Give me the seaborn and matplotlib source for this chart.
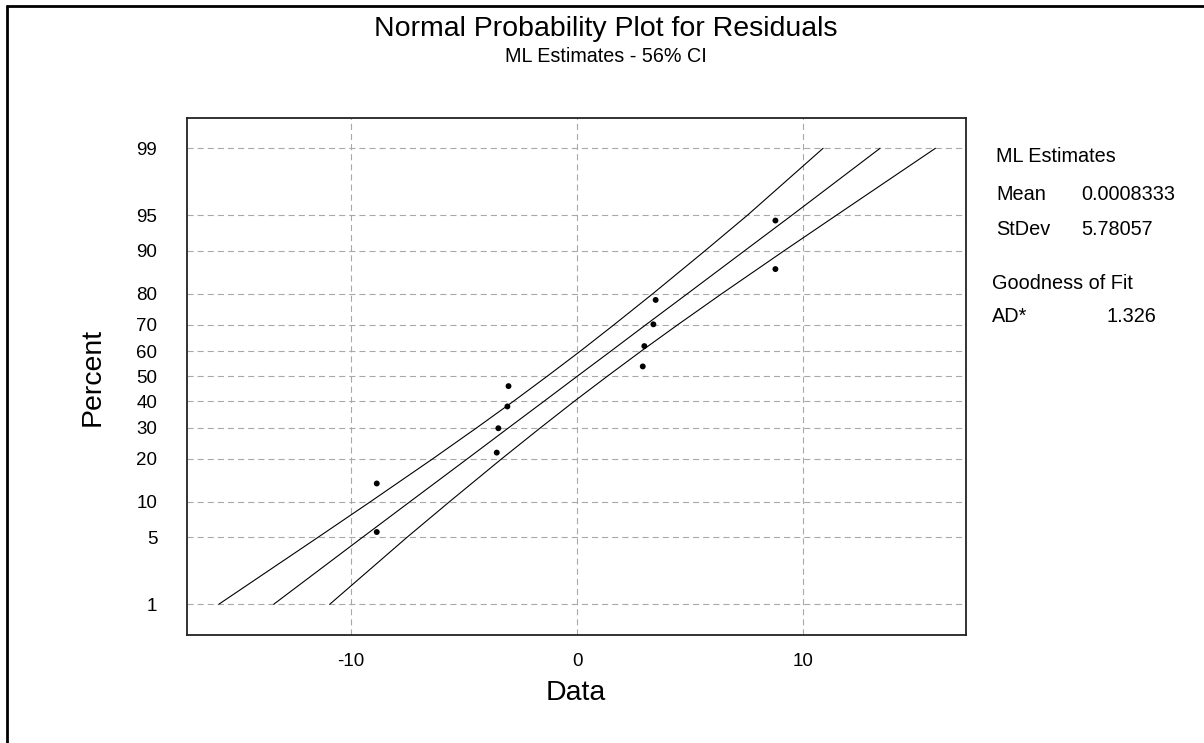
import numpy as np
import pandas as pd
import matplotlib
matplotlib.use("Agg")
import matplotlib.pyplot as plt
import matplotlib.ticker as ticker
from matplotlib.lines import Line2D
import seaborn as sns
from statistics import NormalDist

# residuals and their plotting positions (percent)
resid = [-8.87, -8.87, -3.56, -3.49, -3.09, -3.04, 2.90, 2.97, 3.37, 3.47, 8.77, 8.77]
resid_pct = [5.6, 13.7, 21.8, 29.8, 37.9, 46.0, 54.0, 62.1, 70.2, 78.2, 86.3, 94.4]

# fitted line and 56% CI bands, read at these percent levels
band_pct = [1, 5, 10, 20, 30, 40, 50, 60, 70, 80, 90, 95, 99]
fit_x = [-13.43, -9.51, -7.41, -4.86, -3.03, -1.46, 0.00, 1.47, 3.03, 4.87, 7.41, 9.51, 13.40]
upper_x = [-15.86, -11.48, -9.16, -6.39, -4.44, -2.81, -1.33, 0.12, 1.62, 3.34, 5.66, 7.54, 10.88]
lower_x = [-10.95, -7.54, -5.66, -3.34, -1.62, -0.12, 1.33, 2.81, 4.44, 6.39, 9.16, 11.48, 15.85]

y_ticks = [1, 5, 10, 20, 30, 40, 50, 60, 70, 80, 90, 95, 99]
x_ticks = [-10, 0, 10]

stats_rows = [("Mean", "0.0008333"), ("StDev", "5.78057")]
gof_rows = [("AD*", "1.326")]

pts = pd.DataFrame({"Data": resid, "Percent": resid_pct})
bands = pd.DataFrame({"Percent": band_pct, "fit": fit_x, "upper": upper_x, "lower": lower_x})

sns.set_style("white")
plt.rcParams['font.family'] = ['Liberation Sans', 'DejaVu Sans']
plt.rcParams['text.color'] = 'black'
plt.rcParams['axes.labelcolor'] = 'black'

nd = NormalDist()
_ppf = np.vectorize(nd.inv_cdf, otypes=[float])
_cdf = np.vectorize(nd.cdf, otypes=[float])

def fwd(p):
    p = np.clip(np.asarray(p, dtype=float) / 100.0, 1e-9, 1 - 1e-9)
    return _ppf(p)

def inv(z):
    return _cdf(np.asarray(z, dtype=float)) * 100.0

W, H = 1204, 743
fig = plt.figure(figsize=(W / 100, H / 100), dpi=100)
ax = fig.add_axes([186.7 / W, 1 - 635 / H, (965.7 - 186.7) / W, (635 - 118.3) / H])
ax.set_yscale('function', functions=(fwd, inv))

for col in ["upper", "fit", "lower"]:
    sns.lineplot(data=bands, x=col, y="Percent", ax=ax, color="black", lw=0.8,
                 sort=False, estimator=None)
sns.scatterplot(data=pts, x="Data", y="Percent", ax=ax, color="black", s=18,
                marker="o", edgecolor="none", zorder=5)

ax.set_xlim(-17.28, 17.19)
ax.set_ylim(0.4145, 99.576)
ax.yaxis.set_major_locator(ticker.FixedLocator(y_ticks))
ax.yaxis.set_major_formatter(ticker.FixedFormatter([str(t) for t in y_ticks]))
ax.yaxis.set_minor_locator(ticker.NullLocator())
ax.set_xticks(x_ticks)
ax.set_xticklabels([str(t) for t in x_ticks])

ax.grid(True, color="#a8a8a8", lw=0.8, linestyle=(0, (5.5, 3.6)))
for s in ax.spines.values():
    s.set_color("#222222")
    s.set_linewidth(1.3)
ax.tick_params(axis="y", direction="out", length=7.2, width=1.0, pad=14, labelsize=13.5, colors="black")
ax.tick_params(axis="x", direction="out", length=5, width=1.0, pad=8, labelsize=13.5, colors="black")

ax.set_xlabel("Data", fontsize=20.5)
ax.set_ylabel("Percent", fontsize=20.5)
ax.xaxis.set_label_coords(0.5, -0.087)
ax.yaxis.set_label_coords(-0.104, 0.5)

# titles
fig.text(605.8 / W, 1 - 36 / H, "Normal Probability Plot for Residuals", fontsize=20.5,
         ha="center", va="baseline")
fig.text(605.8 / W, 1 - 62.3 / H, "ML Estimates - 56% CI", fontsize=14.2,
         ha="center", va="baseline")

# side panel
fs = 14.3
fig.text(996 / W, 1 - 161.7 / H, "ML Estimates", fontsize=fs, va="baseline")
for (name, val), yb in zip(stats_rows, [200, 235]):
    fig.text(996 / W, 1 - yb / H, name, fontsize=fs, va="baseline")
    fig.text(1081.7 / W, 1 - yb / H, val, fontsize=fs, va="baseline")
fig.text(992 / W, 1 - 289 / H, "Goodness of Fit", fontsize=fs, va="baseline")
for (name, val), yb in zip(gof_rows, [321.7]):
    fig.text(992 / W, 1 - yb / H, name, fontsize=fs, va="baseline")
    fig.text(1106.7 / W, 1 - yb / H, val, fontsize=fs, va="baseline")

# outer frame (top and left edges)
fig.add_artist(Line2D([6.7 / W, 1], [1 - 5.5 / H, 1 - 5.5 / H], color="black", lw=2.0,
                      transform=fig.transFigure))
fig.add_artist(Line2D([6.7 / W, 6.7 / W], [0, 1 - 5.5 / H], color="black", lw=2.0,
                      transform=fig.transFigure))

fig.savefig("out.png", dpi=100)
